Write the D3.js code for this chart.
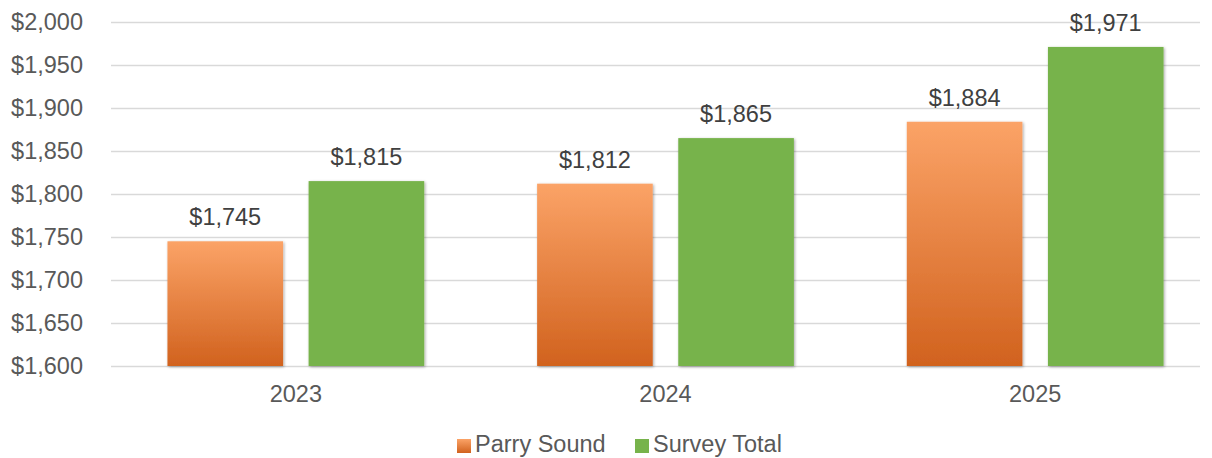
<!DOCTYPE html>
<html>
<head>
<meta charset="utf-8">
<script src="https://cdn.jsdelivr.net/npm/d3@7"></script>
<style>
  html, body { margin: 0; padding: 0; background: #fff; }
  svg { display: block; font-family: "Liberation Sans", Arial, sans-serif; }
</style>
</head>
<body>
<svg id="chart" width="1212" height="458"></svg>
<script>
// Average cost by year: Parry Sound vs. survey total
const years = ["2023", "2024", "2025"];
const seriesNames = ["Parry Sound", "Survey Total"];
const parrySound = [1745, 1812, 1884];
const surveyTotal = [1815, 1865, 1971];
const yTicks = [1600, 1650, 1700, 1750, 1800, 1850, 1900, 1950, 2000];

const svg = d3.select("#chart");
const W = 1212, H = 458;
const plotLeft = 111, plotRight = 1200, plotTop = 22, plotBottom = 366;
const FS = 23.5;

const x0 = d3.scaleBand().domain(years)
  .range([plotLeft, 1220]).paddingInner(0).paddingOuter(0);
const x1 = d3.scaleBand().domain(seriesNames)
  .range([0, x0.bandwidth()]).paddingInner(0.181).paddingOuter(0.40);
const y = d3.scaleLinear().domain([1600, 2000]).range([plotBottom, plotTop]);

const fmt = v => "$" + d3.format(",")(v);

// Gradient + shadow definitions
const defs = svg.append("defs");
const grad = defs.append("linearGradient").attr("id", "orangeGrad")
  .attr("x1", 0).attr("y1", 0).attr("x2", 0).attr("y2", 1);
grad.append("stop").attr("offset", "0%").attr("stop-color", "#FBA367");
grad.append("stop").attr("offset", "100%").attr("stop-color", "#D1621E");

const shadow = defs.append("filter").attr("id", "barShadow")
  .attr("x", "-10%").attr("y", "-10%").attr("width", "120%").attr("height", "120%");
shadow.append("feGaussianBlur").attr("in", "SourceAlpha").attr("stdDeviation", 1.6).attr("result", "b");
shadow.append("feOffset").attr("in", "b").attr("dx", 0.5).attr("dy", 0.5).attr("result", "o");
shadow.append("feComponentTransfer").attr("in", "o").attr("result", "s")
  .append("feFuncA").attr("type", "linear").attr("slope", 0.35);
const merge = shadow.append("feMerge");
merge.append("feMergeNode").attr("in", "s");
merge.append("feMergeNode").attr("in", "SourceGraphic");

// Gridlines
svg.append("g").selectAll("line").data(yTicks).join("line")
  .attr("x1", plotLeft).attr("x2", plotRight)
  .attr("y1", d => Math.round(y(d)) + 0.5).attr("y2", d => Math.round(y(d)) + 0.5)
  .attr("stroke", "#D9D9D9").attr("stroke-width", 1.5);

// Y axis labels
const yAxis = d3.axisLeft(y).tickValues(yTicks).tickFormat(fmt).tickSize(0).tickPadding(0);
const yg = svg.append("g").attr("transform", `translate(83,0)`).call(yAxis);
yg.select(".domain").remove();
yg.selectAll("text").attr("font-size", FS).attr("fill", "#595959")
  .attr("font-family", "Liberation Sans, Arial, sans-serif");

// Bars
const colors = { "Parry Sound": "url(#orangeGrad)", "Survey Total": "#77B34B" };
const rows = years.map((yr, i) => ({
  year: yr,
  vals: [
    { name: "Parry Sound", value: parrySound[i] },
    { name: "Survey Total", value: surveyTotal[i] }
  ]
}));

const groups = svg.append("g").selectAll("g").data(rows).join("g")
  .attr("transform", d => `translate(${x0(d.year)},0)`);

groups.selectAll("rect").data(d => d.vals).join("rect")
  .attr("x", d => x1(d.name))
  .attr("width", x1.bandwidth())
  .attr("y", d => y(d.value))
  .attr("height", d => y(1600) - y(d.value))
  .attr("fill", d => colors[d.name])
  .attr("filter", "url(#barShadow)");

groups.selectAll("text.val").data(d => d.vals).join("text")
  .attr("class", "val")
  .attr("x", d => x1(d.name) + x1.bandwidth() / 2)
  .attr("y", d => y(d.value) - 16)
  .attr("text-anchor", "middle")
  .attr("font-size", FS).attr("fill", "#404040")
  .text(d => fmt(d.value));

// X axis labels
const xAxis = d3.axisBottom(x0).tickSize(0).tickPadding(0);
const xg = svg.append("g").attr("transform", `translate(0,${plotBottom + 19})`).call(xAxis);
xg.select(".domain").remove();
xg.selectAll("text").attr("font-size", FS).attr("fill", "#595959")
  .attr("font-family", "Liberation Sans, Arial, sans-serif");

// Legend
const legend = svg.append("g").attr("transform", "translate(457,452)");
const legendItems = [
  { name: seriesNames[0], fill: "url(#orangeGrad)", dx: 0 },
  { name: seriesNames[1], fill: "#77B34B", dx: 178 }
];
const li = legend.selectAll("g").data(legendItems).join("g")
  .attr("transform", d => `translate(${d.dx},0)`);
li.append("rect").attr("x", 0).attr("y", -13).attr("width", 14).attr("height", 14)
  .attr("fill", d => d.fill);
li.append("text").attr("x", 18).attr("y", 0)
  .attr("font-size", FS).attr("fill", "#595959").text(d => d.name);
</script>
</body>
</html>
